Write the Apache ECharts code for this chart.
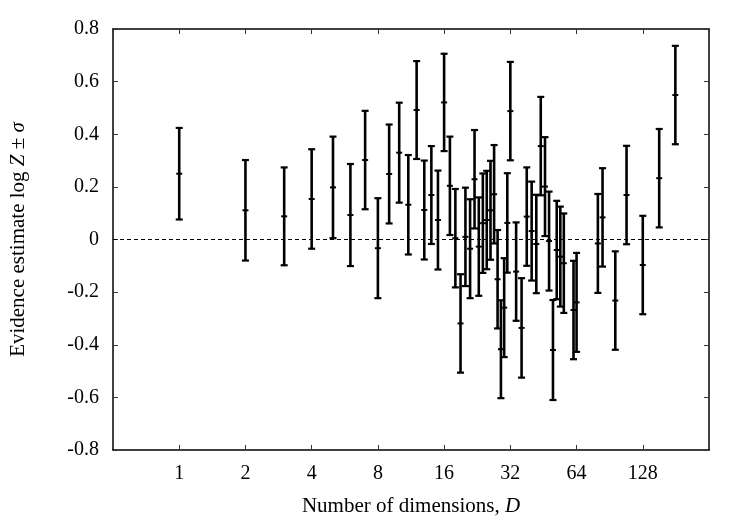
<!DOCTYPE html>
<html>
<head>
<meta charset="utf-8">
<style>
  html, body { margin: 0; padding: 0; background: #fff; }
  #chart { width: 750px; height: 525px; }
</style>
<script src="https://cdn.jsdelivr.net/npm/echarts@6/dist/echarts.min.js"></script>
</head>
<body>
<div id="chart"></div>
<script>
// dimensions D and evidence estimates (mean, sigma)
var dims = [1, 2, 3, 4, 5, 6, 7, 8, 9, 10, 11, 12, 13, 14, 15, 16, 17, 18, 19, 20,
  21, 22, 23, 24, 25, 26, 27, 28, 29, 30, 31, 32, 34, 36, 38, 40, 42, 44, 46, 48,
  50, 52, 54, 56, 62, 64, 80, 84, 96, 108, 128, 152, 180];
var means = [0.25, 0.111, 0.088, 0.154, 0.198, 0.093, 0.302, -0.033, 0.249, 0.33,
  0.132, 0.492, 0.112, 0.169, 0.074, 0.521, 0.204, 0.005, -0.319, 0.01,
  -0.035, 0.229, -0.027, 0.062, 0.074, 0.111, 0.172, -0.151, -0.417, -0.259,
  0.063, 0.488, -0.122, -0.336, 0.087, 0.032, -0.017, 0.355, 0.201, -0.006,
  -0.42, -0.04, -0.065, -0.09, -0.268, -0.239, -0.015, 0.084, -0.232, 0.169,
  -0.097, 0.233, 0.549];
var sigmas = [0.174, 0.191, 0.186, 0.189, 0.193, 0.194, 0.187, 0.19, 0.188, 0.19,
  0.189, 0.186, 0.188, 0.186, 0.188, 0.185, 0.187, 0.187, 0.187, 0.187,
  0.188, 0.187, 0.187, 0.189, 0.187, 0.188, 0.187, 0.187, 0.186, 0.188,
  0.189, 0.187, 0.187, 0.189, 0.187, 0.188, 0.187, 0.187, 0.188, 0.188,
  0.19, 0.187, 0.19, 0.189, 0.187, 0.188, 0.188, 0.187, 0.187, 0.187,
  0.187, 0.187, 0.187];
var xTicks = [1, 2, 4, 8, 16, 32, 64, 128];

var font = 'Liberation Serif';
var ink = '#000';

var data = dims.map(function(d, i) {
  return [d, means[i] - sigmas[i], means[i] + sigmas[i], means[i]];
});

function renderBar(params, api) {
  var x = api.value(0);
  var lo = api.coord([x, api.value(1)]);
  var hi = api.coord([x, api.value(2)]);
  var mid = api.coord([x, api.value(3)]);
  var cap = 3.5;
  function seg(x1, y1, x2, y2, w) {
    return { type: 'line', shape: { x1: x1, y1: y1, x2: x2, y2: y2 },
      style: { stroke: ink, lineWidth: w || 2.6 } };
  }
  return {
    type: 'group',
    children: [
      seg(hi[0], hi[1], lo[0], lo[1]),
      seg(hi[0] - cap, hi[1], hi[0] + cap, hi[1], 2.2),
      seg(lo[0] - cap, lo[1], lo[0] + cap, lo[1], 2.2),
      seg(mid[0] - 3, mid[1], mid[0] + 3, mid[1], 2)
    ]
  };
}

var chart = echarts.init(document.getElementById('chart'), null, { renderer: 'canvas' });

var xBase = {
  type: 'log',
  logBase: 2,
  min: 0.5,
  max: 256,
  axisLine: { show: true, onZero: false, lineStyle: { color: ink, width: 1.5 } },
  axisTick: { show: true, inside: true, length: 5, lineStyle: { color: '#333', width: 1 } },
  splitLine: { show: false },
  minorTick: { show: false }
};
var yBase = {
  type: 'value',
  min: -0.8,
  max: 0.8,
  interval: 0.2,
  axisLine: { show: true, onZero: false, lineStyle: { color: ink, width: 1.5 } },
  axisTick: { show: true, inside: true, length: 5, lineStyle: { color: '#333', width: 1 } },
  splitLine: { show: false }
};

chart.setOption({
  animation: false,
  backgroundColor: '#fff',
  textStyle: { fontFamily: font, color: ink },
  grid: { left: 113, right: 41, top: 29, bottom: 75 },
  xAxis: [
    Object.assign({}, xBase, {
      position: 'bottom',
      name: 'Number of dimensions, {i|D}',
      nameLocation: 'middle',
      nameGap: 46,
      nameTextStyle: {
        fontFamily: font, fontSize: 21, color: ink,
        rich: { i: { fontFamily: font, fontSize: 21, fontStyle: 'italic', color: ink } }
      },
      axisLabel: {
        show: true, margin: 14, fontFamily: font, fontSize: 20, color: ink,
        showMinLabel: false, showMaxLabel: false,
        formatter: function(v) {
          return xTicks.indexOf(Math.round(v)) >= 0 ? String(Math.round(v)) : '';
        }
      }
    }),
    Object.assign({}, xBase, { position: 'top', axisLabel: { show: false } })
  ],
  yAxis: [
    Object.assign({}, yBase, {
      position: 'left',
      name: 'Evidence estimate log {i|Z} ± {i|σ}',
      nameLocation: 'middle',
      nameGap: 84,
      nameTextStyle: {
        fontFamily: font, fontSize: 21, color: ink,
        rich: { i: { fontFamily: font, fontSize: 21, fontStyle: 'italic', color: ink } }
      },
      axisLabel: {
        show: true, margin: 14, fontFamily: font, fontSize: 20, color: ink,
        formatter: function(v) {
          var r = Math.round(v * 10) / 10;
          return r === 0 ? '0' : r.toFixed(1);
        }
      }
    }),
    Object.assign({}, yBase, { position: 'right', axisLabel: { show: false } })
  ],
  series: [{
    type: 'custom',
    renderItem: renderBar,
    encode: { x: 0, y: [1, 2, 3] },
    data: data,
    z: 3,
    markLine: {
      silent: true,
      symbol: 'none',
      z: 1,
      label: { show: false },
      lineStyle: { color: ink, width: 1.2, type: [4, 3] },
      data: [{ yAxis: 0 }]
    }
  }]
});
</script>
</body>
</html>
